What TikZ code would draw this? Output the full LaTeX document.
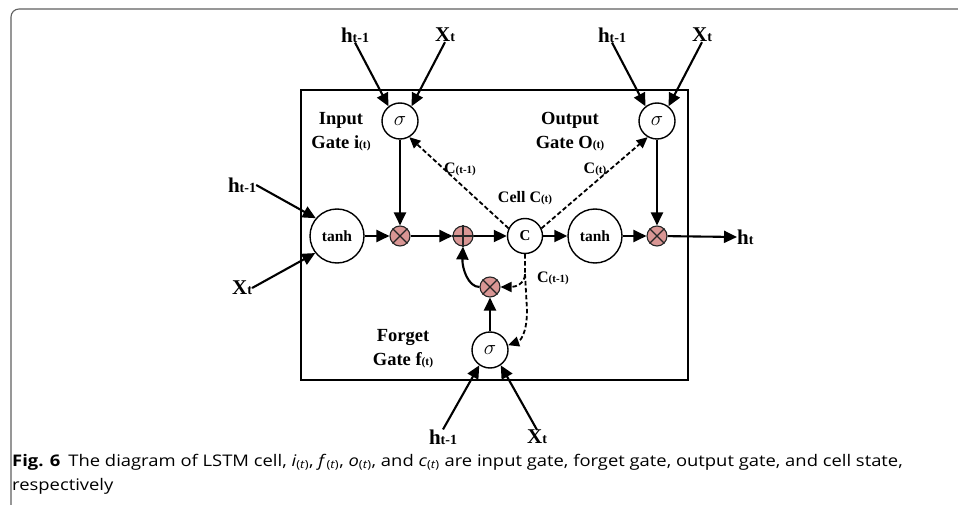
\documentclass[tikz,border=0pt]{standalone}
\usepackage{fontspec}
\setmainfont{Liberation Serif}
\newfontfamily\capfont[FakeStretch=1.15]{Open Sans}
\usetikzlibrary{arrows.meta}
\definecolor{mulfill}{HTML}{D99694}
\definecolor{framegray}{HTML}{606060}
\newcommand\hprev{{\fontsize{21}{21}\selectfont h}{\fontsize{14}{14}\selectfont t-1}}
\newcommand\hcur{{\fontsize{21}{21}\selectfont h}{\fontsize{14}{14}\selectfont t}}
\newcommand\xcur{{\fontsize{21}{21}\selectfont X}{\fontsize{14}{14}\selectfont t}}
\newcommand\smallsub[1]{{\fontsize{11.5}{11.5}\selectfont #1}}
\newcommand\tinysub[1]{{\fontsize{11}{11}\selectfont #1}}
\tikzset{
 arr/.style={line width=2.1pt,-{Triangle[length=13pt,width=12pt]}},
 dsh/.style={line width=1.8pt,dash pattern=on 4.5pt off 2.5pt,-{Triangle[length=11pt,width=10pt]}},
 gate/.style={circle,draw,line width=1.4pt,minimum size=36pt,inner sep=0pt,fill=white,font=\fontsize{22}{22}\selectfont},
 bigc/.style={circle,draw,line width=1.4pt,minimum size=54pt,inner sep=0pt,fill=white,font=\bfseries\fontsize{15.5}{15.5}\selectfont},
 cellc/.style={circle,draw,line width=1.4pt,minimum size=35pt,inner sep=0pt,fill=white,font=\bfseries\fontsize{15}{15}\selectfont},
 mul/.style={circle,draw=black!85,line width=1.1pt,minimum size=20pt,inner sep=0pt,fill=mulfill},
 sym/.style={line width=1.1pt,black!85},
 lbl/.style={font=\bfseries,inner sep=0pt},
 glbl/.style={font=\bfseries\fontsize{18.5}{24}\selectfont,align=center,inner sep=0pt},
 clbl/.style={font=\bfseries\fontsize{16}{16}\selectfont,inner sep=0pt},
}
\begin{document}
\begin{tikzpicture}[x=1pt,y=-1pt]
\useasboundingbox (0,0) rectangle (958,505);
% outer frame
\draw[framegray,line width=1.1pt,rounded corners=8pt] (11,510) -- (11,9) -- (965,9);
% cell box
\draw[line width=2.4pt] (301,90) rectangle (688,380);
% nodes
\node[gate] (is) at (400,121) {$\sigma$};
\node[gate] (os) at (657,121) {$\sigma$};
\node[gate] (fs) at (490,350) {$\sigma$};
\node[bigc] (t1) at (337,236) {tanh};
\node[bigc] (t2) at (595,236) {tanh};
\node[cellc] (cc) at (525,236) {C};
\node[mul] (m1) at (400,236) {};
\node[mul] (pl) at (463,236) {};
\node[mul] (m2) at (657,236) {};
\node[mul] (fx) at (490,287) {};
\foreach \m in {m1,m2,fx}{
  \draw[sym] (\m.45) -- (\m.225);
  \draw[sym] (\m.135) -- (\m.315);
}
\draw[sym] (pl.north) -- (pl.south);
\draw[sym] (pl.east) -- (pl.west);
% external labels
\node[lbl] (h1) at (355,35) {\hprev};
\node[lbl] (x1) at (445,35) {\xcur};
\node[lbl] (h2) at (612,35) {\hprev};
\node[lbl] (x2) at (702,35) {\xcur};
\node[lbl] (h3) at (242,185) {\hprev};
\node[lbl] (x3) at (242,288) {\xcur};
\node[lbl] (h4) at (443,437) {\hprev};
\node[lbl] (x4) at (537,437) {\xcur};
\node[lbl,anchor=west] (ht) at (737,237) {\hcur};
% gate labels
\node[glbl] (ig) at (341,132) {Input\\Gate i\smallsub{(t)}};
\node[glbl] (og) at (570,132) {Output\\Gate O\smallsub{(t)}};
\node[glbl] (fg) at (403,349) {Forget\\Gate f\smallsub{(t)}};
\node[clbl] (c1) at (460,169) {C\tinysub{(t-1)}};
\node[clbl] (c2) at (595,169) {C\tinysub{(t)}};
\node[clbl] (c3) at (525,198) {Cell C\tinysub{(t)}};
\node[clbl] (c4) at (553,278) {C\tinysub{(t-1)}};
% input arrows
\draw[arr] (h1.south) -- (is.128);
\draw[arr] (x1.south) -- (is.52);
\draw[arr] (h2.south) -- (os.128);
\draw[arr] (x2.south) -- (os.52);
\draw[arr] (h3.east) -- (t1.140);
\draw[arr] (x3.east) -- (t1.218);
\draw[arr] (h4.north) -- (fs.235);
\draw[arr] (x4.north) -- (fs.305);
% main flow
\draw[arr] (t1) -- (m1);
\draw[arr] (m1) -- (pl);
\draw[arr] (pl) -- (cc);
\draw[arr] (cc) -- (t2);
\draw[arr] (t2) -- (m2);
\draw[arr] (m2) -- (ht.west);
\draw[arr] (is) -- (m1);
\draw[arr] (os) -- (m2);
\draw[arr] (fs) -- (fx);
\draw[arr] (fx.west) .. controls (468,287) and (462,268) .. (pl.south);
% dashed peephole
\draw[dsh] (cc.155) -- (is.300);
\draw[dsh] (cc.25) -- (os.240);
\coordinate (br) at (525,274);
\draw[dsh] (cc.south) -- (br) .. controls (525,284) and (515,287) .. (fx.east);
\draw[dsh] (br) -- (527,310) .. controls (527,334) and (520,341) .. (fs.15);
% caption
\node[anchor=base west,align=left,inner sep=0pt,font=\capfont\fontsize{16}{24}\selectfont] (cap) at (12,490)
 {\textbf{Fig. 6}\hspace{0.5em}The diagram of LSTM cell, \textit{i}\textsubscript{(\textit{t})}, \textit{f}\textsubscript{(\textit{t})}, \textit{o}\textsubscript{(\textit{t})}, and \textit{c}\textsubscript{(\textit{t})} are input gate, forget gate, output gate, and cell state,\\respectively};
\end{tikzpicture}
\end{document}
